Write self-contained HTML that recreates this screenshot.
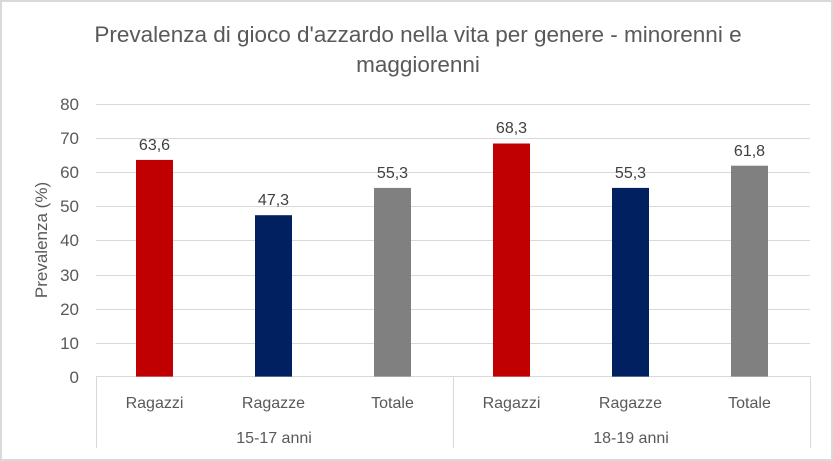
<!DOCTYPE html>
<html><head><style>body{margin:0}svg{display:block}</style></head><body>
<svg width="833" height="461" xmlns="http://www.w3.org/2000/svg" font-family="Liberation Sans, sans-serif">
<rect x="0" y="0" width="833" height="461" fill="#fff"/>
<rect x="1" y="1" width="831" height="459" fill="none" stroke="#d9d9d9" stroke-width="2"/>
<text x="418" y="42" text-anchor="middle" font-size="22.5" fill="#595959">Prevalenza di gioco d'azzardo nella vita per genere - minorenni e</text>
<text x="418" y="72" text-anchor="middle" font-size="22.5" fill="#595959">maggiorenni</text>
<g stroke="#d9d9d9" stroke-width="1">
<line x1="96" x2="810" y1="104.5" y2="104.5"/><line x1="96" x2="810" y1="138.5" y2="138.5"/>
<line x1="96" x2="810" y1="172.5" y2="172.5"/><line x1="96" x2="810" y1="206.5" y2="206.5"/>
<line x1="96" x2="810" y1="240.5" y2="240.5"/><line x1="96" x2="810" y1="275.5" y2="275.5"/>
<line x1="96" x2="810" y1="309.5" y2="309.5"/><line x1="96" x2="810" y1="343.5" y2="343.5"/>
<line x1="96" x2="810" y1="376.5" y2="376.5"/>
<line x1="96.5" x2="96.5" y1="376" y2="448"/><line x1="453.5" x2="453.5" y1="376" y2="448"/><line x1="810.5" x2="810.5" y1="376" y2="448"/>
</g>
<g font-size="17" fill="#595959" text-anchor="end">
<text x="79" y="110">80</text><text x="79" y="144">70</text><text x="79" y="178">60</text><text x="79" y="212">50</text>
<text x="79" y="246">40</text><text x="79" y="281">30</text><text x="79" y="315">20</text><text x="79" y="349">10</text><text x="79" y="383">0</text>
</g>
<text transform="translate(47,240) rotate(-90)" text-anchor="middle" font-size="17" fill="#595959">Prevalenza (%)</text>
<rect x="136" y="159.9" width="37" height="216.7" fill="#c00000"/>
<rect x="255" y="215.2" width="37" height="161.4" fill="#002060"/>
<rect x="374" y="187.9" width="37" height="188.7" fill="#808080"/>
<rect x="493" y="143.5" width="37" height="233.1" fill="#c00000"/>
<rect x="612" y="187.9" width="37" height="188.7" fill="#002060"/>
<rect x="731" y="165.7" width="37" height="210.9" fill="#808080"/>
<g font-size="16" fill="#404040" text-anchor="middle">
<text x="154.5" y="150">63,6</text><text x="273.5" y="205">47,3</text><text x="392.5" y="178">55,3</text>
<text x="511.5" y="133">68,3</text><text x="630.5" y="178">55,3</text><text x="749.5" y="156">61,8</text>
</g>
<g font-size="16" fill="#595959" text-anchor="middle">
<text x="154.5" y="408">Ragazzi</text><text x="273.5" y="408">Ragazze</text><text x="392.5" y="408">Totale</text>
<text x="511.5" y="408">Ragazzi</text><text x="630.5" y="408">Ragazze</text><text x="749.5" y="408">Totale</text>
<text x="274" y="443">15-17 anni</text><text x="631" y="443">18-19 anni</text>
</g>
</svg>
</body></html>
